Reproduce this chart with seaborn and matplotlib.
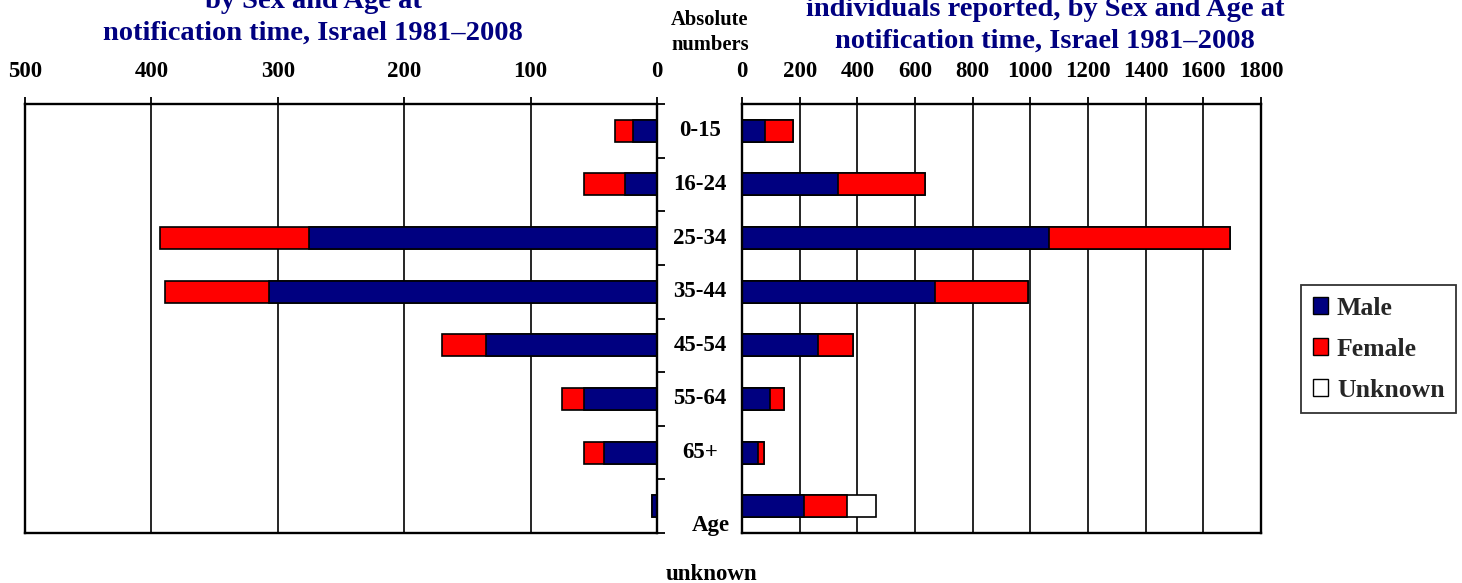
import matplotlib
matplotlib.use("Agg")
import matplotlib.pyplot as plt
import matplotlib.transforms as mtransforms
from matplotlib.patches import Patch
import seaborn as sns
import pandas as pd

# ---- data ----
categories = ["0-15", "16-24", "25-34", "35-44", "45-54", "55-64", "65+", "Age unknown"]
left_male = [19, 25, 275, 307, 135, 58, 42, 4]
left_female = [14, 33, 118, 82, 35, 17, 16, 0]
right_male = [81, 333, 1066, 670, 262, 96, 57, 216]
right_female = [97, 303, 628, 323, 124, 48, 18, 149]
right_unknown = [0, 0, 0, 0, 0, 0, 0, 101]
left_ticks = [500, 400, 300, 200, 100, 0]
right_ticks = [0, 200, 400, 600, 800, 1000, 1200, 1400, 1600, 1800]
left_title = ["by Sex and Age at", "notification time, Israel 1981\u20132008"]
right_title = ["individuals reported, by Sex and Age at", "notification time, Israel 1981\u20132008"]
legend_labels = ["Male", "Female", "Unknown"]

NAVY = "#000080"
RED = "#FF0000"
WHITE = "#FFFFFF"

sns.set_theme(style="white")
plt.rcParams["font.family"] = ["Liberation Serif", "DejaVu Serif"]
plt.rcParams["font.weight"] = "bold"

W, H = 1462, 583
fig = plt.figure(figsize=(W / 100, H / 100), dpi=100)

def frac_box(x0, y0, x1, y1):
    return [x0 / W, 1 - y1 / H, (x1 - x0) / W, (y1 - y0) / H]

axL = fig.add_axes(frac_box(25, 104, 657, 533))
axR = fig.add_axes(frac_box(742, 104, 1261, 533))

dfL = pd.DataFrame({"cat": categories, "male": left_male,
                    "total": [m + f for m, f in zip(left_male, left_female)]})
dfR = pd.DataFrame({"cat": categories, "male": right_male,
                    "mf": [m + f for m, f in zip(right_male, right_female)],
                    "total": [m + f + u for m, f, u in zip(right_male, right_female, right_unknown)]})

bw = 0.41
blw = 1.2
kw = dict(orient="h", width=bw, edgecolor="black", linewidth=blw, saturation=1, order=categories)

sns.barplot(data=dfL, x="total", y="cat", color=RED, ax=axL, **kw)
sns.barplot(data=dfL, x="male", y="cat", color=NAVY, ax=axL, **kw)

sns.barplot(data=dfR, x="total", y="cat", color=WHITE, ax=axR, **kw)
sns.barplot(data=dfR, x="mf", y="cat", color=RED, ax=axR, **kw)
sns.barplot(data=dfR, x="male", y="cat", color=NAVY, ax=axR, **kw)

# hide zero-width bars' outlines
for ax in (axL, axR):
    for p in ax.patches:
        if p.get_width() == 0:
            p.set_visible(False)

tick_fs = 16.5
for ax in (axL, axR):
    ax.set_ylim(7.5, -0.5)
    ax.set_xlabel("")
    ax.set_ylabel("")
    ax.xaxis.tick_top()
    ax.tick_params(axis="x", which="major", direction="out", length=5, width=1.3,
                   color="black", pad=11, labelsize=tick_fs, labelcolor="black")
    for s in ax.spines.values():
        s.set_color("black")
        s.set_linewidth(1.7)
        s.set_visible(True)
    ax.grid(axis="x", color="black", linewidth=1.2)
    ax.grid(axis="y", visible=False)
    ax.set_axisbelow(True)
    ax.set_facecolor("white")

axL.set_xlim(500, 0)
axL.set_xticks(left_ticks)
axL.set_xticklabels([str(t) for t in left_ticks], fontweight="bold")
axL.yaxis.tick_right()
axL.set_yticks([i - 0.5 for i in range(len(categories) + 1)])
axL.set_yticklabels([])
axL.tick_params(axis="y", direction="out", length=6, width=1.3, color="black")

axR.set_xlim(0, 1800)
axR.set_xticks(right_ticks)
axR.set_xticklabels([str(t) for t in right_ticks], fontweight="bold")
axR.set_yticks([])

# category labels in the gap
blend = mtransforms.blended_transform_factory(fig.transFigure, axL.transData)
cx = 700 / W
for i, c in enumerate(categories[:-1]):
    fig.text(cx, i, c, transform=blend, ha="center", va="center",
             fontsize=16.5, fontweight="bold", color="black")
fig.text(711 / W, 1 - 525 / H, "Age", ha="center", va="center",
         fontsize=16.5, fontweight="bold", color="black")
fig.text(711 / W, 1 - 574 / H, "unknown", ha="center", va="center",
         fontsize=16.5, fontweight="bold", color="black")

fig.text(710 / W, 1 - 20 / H, "Absolute", ha="center", va="center",
         fontsize=14.8, fontweight="bold", color="black")
fig.text(710 / W, 1 - 45 / H, "numbers", ha="center", va="center",
         fontsize=14.8, fontweight="bold", color="black")

# titles
tfs = 20.5
fig.text(313 / W, 1 - 1 / H, left_title[0], ha="center", va="center",
         fontsize=tfs, fontweight="bold", color=NAVY)
fig.text(313 / W, 1 - 33 / H, left_title[1], ha="center", va="center",
         fontsize=tfs, fontweight="bold", color=NAVY)
fig.text(1045 / W, 1 - 10 / H, right_title[0], ha="center", va="center",
         fontsize=tfs, fontweight="bold", color=NAVY)
fig.text(1045 / W, 1 - 41 / H, right_title[1], ha="center", va="center",
         fontsize=tfs, fontweight="bold", color=NAVY)

handles = [Patch(facecolor=c, edgecolor="black", linewidth=1.0)
           for c in (NAVY, RED, WHITE)]
leg = fig.legend(handles, legend_labels, loc="upper left",
                 bbox_to_anchor=(1301 / W, 1 - 285 / H), borderaxespad=0,
                 frameon=True, fancybox=False, edgecolor="black",
                 prop={"size": 18.5, "weight": "bold"},
                 handlelength=0.6, handleheight=0.6, handletextpad=0.35,
                 labelspacing=0.7, borderpad=0.45)
leg.get_frame().set_linewidth(1.3)

fig.savefig("out.png", dpi=100, facecolor="white")
